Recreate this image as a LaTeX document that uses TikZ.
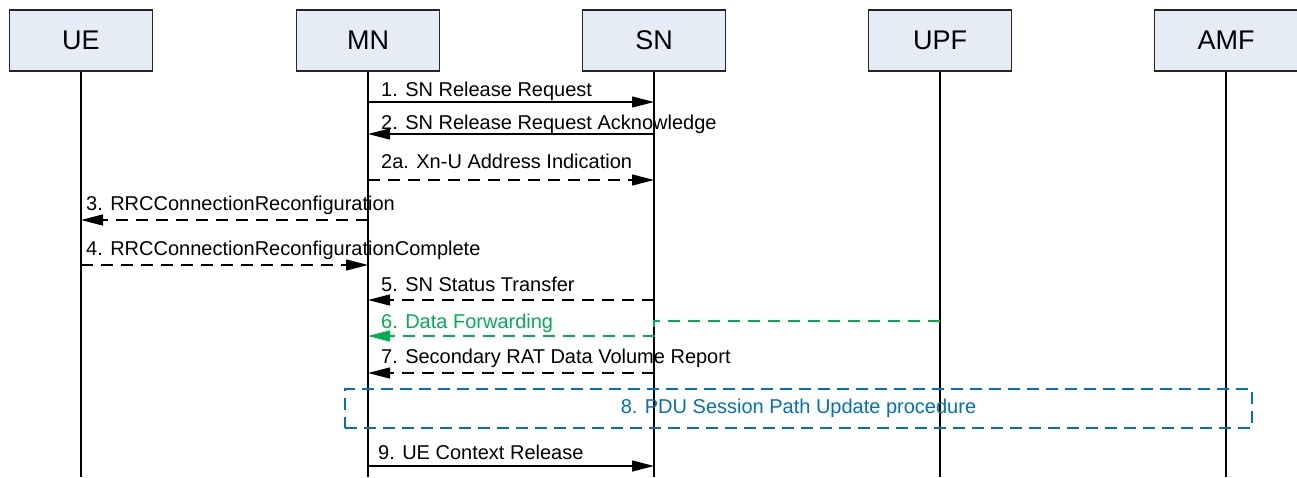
\documentclass[tikz,border=0pt]{standalone}
\usepackage{fontspec}
\setmainfont{Liberation Sans}
\usetikzlibrary{arrows.meta}
\tikzset{>={Triangle[length=22pt,width=11pt]}}

\definecolor{boxfill}{RGB}{230,236,246}
\definecolor{fwdgreen}{RGB}{0,176,80}
\definecolor{procblue}{RGB}{0,112,192}

\tikzset{
  entity/.style={rectangle,draw=black!85,line width=1.3pt,fill=boxfill,
    minimum width=143pt,minimum height=61pt,inner sep=0pt,
    font=\fontsize{27}{32}\selectfont},
  life/.style={line width=1.1pt},
  msg/.style={->,line width=1.3pt},
  dmsg/.style={msg,dash pattern=on 12pt off 8pt},
  fwd/.style={dmsg,draw=fwdgreen},
  lbl/.style={anchor=base west,inner sep=0pt,font=\fontsize{20}{24}\selectfont},
  proc/.style={draw=procblue,line width=1.4pt,dash pattern=on 12pt off 7pt,
    minimum width=907pt,minimum height=39pt,inner sep=0pt,text=procblue,
    font=\fontsize{20}{24}\selectfont},
}

\begin{document}
\begin{tikzpicture}[x=1pt,y=-1pt]
\useasboundingbox (0,0) rectangle (1297,477);

% entities
\node[entity] (UE) at(81,40.5){UE};
\node[entity] (MN) at(368,40.5){MN};
\node[entity] (SN) at(654,40.5){SN};
\node[entity] (UPF) at(940,40.5){UPF};
\node[entity] (AMF) at(1226,40.5){AMF};

\coordinate (bot) at(0,477);
\draw[life] (UE) --(UE |- bot);
\draw[life] (MN) --(MN |- bot);
\draw[life] (SN) --(SN |- bot);
\draw[life] (UPF) --(UPF |- bot);
\draw[life] (AMF) --(AMF |- bot);

% message heights
\coordinate (y1) at(0,102);
\coordinate (y2) at(0,134);
\coordinate (y2a) at(0,180);
\coordinate (y3) at(0,220);
\coordinate (y4) at(0,265);
\coordinate (y5) at(0,300);
\coordinate (y6a) at(0,321);
\coordinate (y6b) at(0,336);
\coordinate (y7) at(0,373);
\coordinate (y9) at(0,466);

\draw[msg] (MN |- y1) --(SN |- y1);
\draw[msg] (SN |- y2) --(MN |- y2);
\draw[dmsg] (MN |- y2a) --(SN |- y2a);
\draw[dmsg] (MN |- y3) --(UE |- y3);
\draw[dmsg] (UE |- y4) --(MN |- y4);
\draw[dmsg] (SN |- y5) --(MN |- y5);
\draw[fwd] (UPF |- y6a) --(SN |- y6a) --(SN |- y6b) --(MN |- y6b);
\draw[dmsg] (SN |- y7) --(MN |- y7);
\draw[msg] (MN |- y9) --(SN |- y9);

% labels
\node[lbl] (t1) at(381,96){1. SN Release Request};
\node[lbl] (t2) at(381,129){2. SN Release Request Acknowledge};
\node[lbl] (t2a) at(381,168){2a. Xn-U Address Indication};
\node[lbl] (t3) at(86,210){3. RRCConnectionReconfiguration};
\node[lbl] (t4) at(86,255){4. RRCConnectionReconfigurationComplete};
\node[lbl] (t5) at(381,291){5. SN Status Transfer};
\node[lbl,text=fwdgreen] (t6) at(381,328){6. Data Forwarding};
\node[lbl] (t7) at(381,363){7. Secondary RAT Data Volume Report};
\node[lbl] (t9) at(378,459){9. UE Context Release};

% procedure box
\node[proc] (P8) at(798.5,408.5){8. PDU Session Path Update procedure};

\end{tikzpicture}
\end{document}
